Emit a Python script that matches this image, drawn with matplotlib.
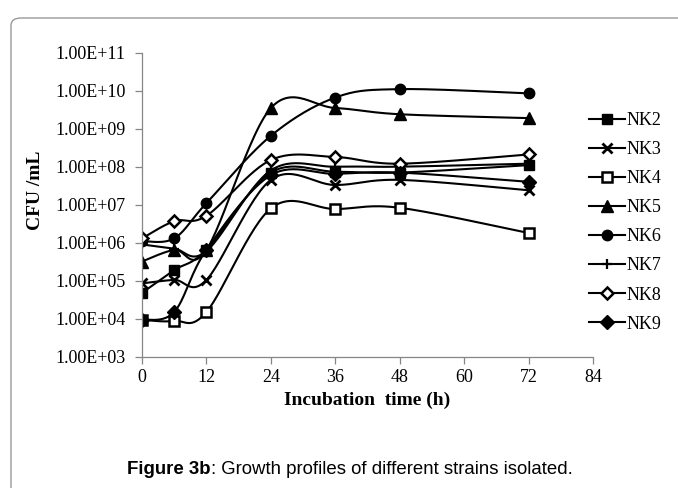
import numpy as np
import matplotlib
matplotlib.use("Agg")
import matplotlib.pyplot as plt
from matplotlib.lines import Line2D
from matplotlib.patches import FancyBboxPatch
from matplotlib.ticker import FixedLocator, FuncFormatter, NullLocator

# data (CFU/mL vs hours)
hours = [0, 6, 12, 24, 36, 48, 72]
nk2 = [4.8e4, 1.9e5, 6.5e5, 7.0e7, 7.4e7, 7.0e7, 1.1e8]
nk3 = [8.5e4, 1.05e5, 1.05e5, 4.5e7, 3.3e7, 4.5e7, 2.4e7]
nk4 = [9.3e3, 8.7e3, 1.5e4, 8.0e6, 7.7e6, 8.3e6, 1.8e6]
nk5 = [3.2e5, 6.5e5, 6.5e5, 3.5e9, 3.5e9, 2.4e9, 1.9e9]
nk6 = [1.1e6, 1.3e6, 1.1e7, 6.5e8, 6.6e9, 1.1e10, 8.5e9]
nk7 = [9.0e5, 7.0e5, 6.0e5, 8.0e7, 1.0e8, 1.0e8, 1.2e8]
nk8 = [1.3e6, 3.7e6, 5.1e6, 1.5e8, 1.8e8, 1.2e8, 2.1e8]
nk9 = [9.3e3, 1.5e4, 6.5e5, 6.0e7, 6.5e7, 7.0e7, 4.0e7]

names = ["NK2", "NK3", "NK4", "NK5", "NK6", "NK7", "NK8", "NK9"]
series = [nk2, nk3, nk4, nk5, nk6, nk7, nk8, nk9]
x_ticks = [0, 12, 24, 36, 48, 60, 72, 84]
y_ticks = [1e3, 1e4, 1e5, 1e6, 1e7, 1e8, 1e9, 1e10, 1e11]

styles = {
    "NK2": dict(marker="s", ms=7, mfc="black", mec="black"),
    "NK3": dict(marker="x", ms=7, mew=2, mec="black"),
    "NK4": dict(marker="s", ms=6.5, mfc="white", mec="black", mew=1.8),
    "NK5": dict(marker="^", ms=8, mfc="black", mec="black"),
    "NK6": dict(marker="o", ms=7.5, mfc="black", mec="black"),
    "NK7": dict(marker="+", ms=7, mew=1.6, mec="black"),
    "NK8": dict(marker="D", ms=6, mfc="white", mec="black", mew=1.8),
    "NK9": dict(marker="D", ms=7, mfc="black", mec="black"),
}


def smooth(xs, ys, n=30):
    # excel style smoothed line: catmull-rom through the points (log y)
    px = np.array(xs, float)
    py = np.log10(np.array(ys, float))
    outx, outy = [], []
    for i in range(len(px) - 1):
        i0 = max(i - 1, 0)
        i3 = min(i + 2, len(px) - 1)
        c1x = px[i] + (px[i + 1] - px[i0]) / 6
        c1y = py[i] + (py[i + 1] - py[i0]) / 6
        c2x = px[i + 1] - (px[i3] - px[i]) / 6
        c2y = py[i + 1] - (py[i3] - py[i]) / 6
        t = np.linspace(0, 1, n)
        bx = (1-t)**3*px[i] + 3*(1-t)**2*t*c1x + 3*(1-t)*t**2*c2x + t**3*px[i+1]
        by = (1-t)**3*py[i] + 3*(1-t)**2*t*c1y + 3*(1-t)*t**2*c2y + t**3*py[i+1]
        outx.extend(bx)
        outy.extend(by)
    return np.array(outx), 10 ** np.array(outy)


W, H = 678, 488
fig = plt.figure(figsize=(W / 100, H / 100), dpi=100)
plt.rcParams["font.family"] = ["Liberation Serif", "DejaVu Serif"]

# rounded frame around the figure
frame = FancyBboxPatch((11 / W, -0.2), 1.2, 1 - 18 / H + 0.2,
                       boxstyle="round,pad=0,rounding_size=0.015",
                       transform=fig.transFigure, fill=False,
                       ec="#9a9a9a", lw=1.0, clip_on=False)
fig.add_artist(frame)

left, right, top, bottom = 142, 593, 52.7, 356.7
ax = fig.add_axes([left / W, 1 - bottom / H, (right - left) / W, (bottom - top) / H])

handles = []
for name, vals in zip(names, series):
    sx, sy = smooth(hours, vals)
    ax.plot(sx, sy, color="black", lw=1.5, solid_capstyle="round")
    ax.plot(hours, vals, ls="none", **styles[name])
    handles.append(Line2D([], [], color="black", lw=1.5, **styles[name]))

ax.set_yscale("log")
ax.set_xlim(0, 84)
ax.set_ylim(1e3, 1e11)
ax.xaxis.set_major_locator(FixedLocator(x_ticks))
ax.yaxis.set_major_locator(FixedLocator(y_ticks))
ax.yaxis.set_minor_locator(NullLocator())
ax.yaxis.set_major_formatter(FuncFormatter(lambda v, p: "1.00E+%02d" % round(np.log10(v))))

for s in ["top", "right"]:
    ax.spines[s].set_visible(False)
for s in ["left", "bottom"]:
    ax.spines[s].set_color("#868686")
    ax.spines[s].set_linewidth(0.9)
ax.tick_params(direction="out", length=5, width=0.9, color="#868686",
               labelsize=13)
ax.tick_params(axis="y", pad=7)
ax.tick_params(axis="x", pad=4)
ax.set_facecolor("none")

ax.set_xlabel("Incubation  time (h)", fontsize=14, fontweight="bold", labelpad=4)
fig.text(35 / W, 1 - 190 / H, "CFU /mL", rotation=90, fontsize=14,
         fontweight="bold", ha="center", va="center")

fig.legend(handles, names, loc="upper left", frameon=False,
           bbox_to_anchor=(589 / W, 1 - 112 / H), fontsize=13,
           handlelength=2.0, handletextpad=0.1, labelspacing=0.67,
           borderaxespad=0, borderpad=0)

# caption: bold lead-in followed by plain text, centred as one line
cap_y = 1 - 470 / H
cap_size = 13.4
t1 = fig.text(0, cap_y, "Figure 3b", fontsize=cap_size, fontweight="bold",
              family="Liberation Sans", ha="left", va="center")
t2 = fig.text(0, cap_y, ": Growth profiles of different strains isolated.",
              fontsize=cap_size, family="Liberation Sans", ha="left", va="center")
fig.canvas.draw()
w1 = t1.get_window_extent().width
w2 = t2.get_window_extent().width
x0 = 350 - (w1 + w2) / 2
t1.set_x(x0 / W)
t2.set_x((x0 + w1) / W)

fig.savefig("out.png", dpi=100)
